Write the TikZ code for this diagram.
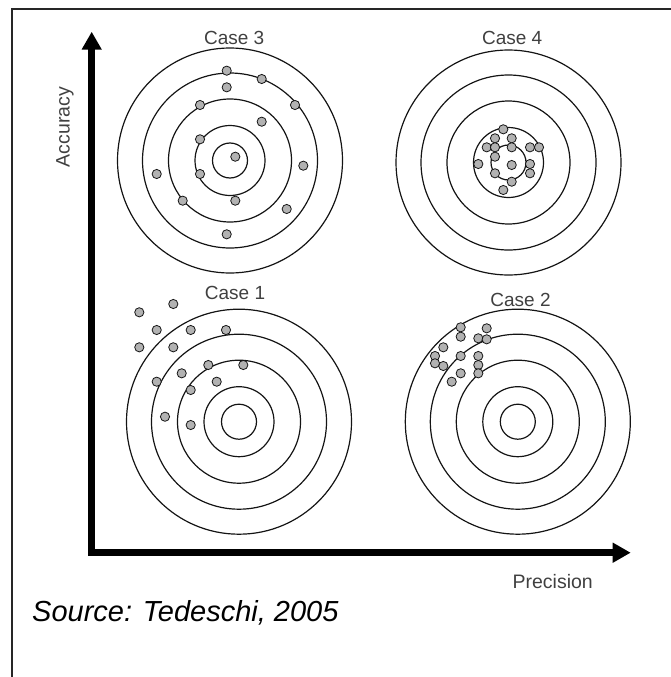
\documentclass[tikz,border=0pt]{standalone}
\usepackage{fontspec}
\setmainfont{Liberation Sans}
\usepackage{xcolor}
\definecolor{ink}{RGB}{20, 20, 20}
\definecolor{shot}{RGB}{178, 178, 178}
\usepackage{tikz}
\usetikzlibrary{arrows.meta,positioning}

\begin{document}
\begin{tikzpicture}[
  x=1pt, y=-1pt,
  ring/.style={draw=ink, line width=1.2pt},
  shotdot/.style={draw=ink, fill=shot, line width=0.8pt},
  caselabel/.style={anchor=base, inner sep=0pt, text=black!75, font=\fontsize{19}{19}\selectfont},
  axislabel/.style={inner sep=0pt, text=black!75, font=\fontsize{19.5}{19.5}\selectfont},
  axis/.style={line width=6.7pt, line join=miter, draw=black,
    {Triangle[length=18pt,width=19pt]}-{Triangle[length=18pt,width=19pt]}}
]
\useasboundingbox (0,0) rectangle (671,677);

% frame
\draw[line width=2pt, draw=black!85] (671,9) -- (11.5,9) -- (11.5,677);

% targets
\coordinate (t3) at (230,160.5);
\coordinate (t4) at (508.5,162.5);
\coordinate (t1) at (239,421.7);
\coordinate (t2) at (517.8,421.7);
\foreach \t in {t1,t2,t3,t4}
  \foreach \r in {17.5,35,61.5,87.5,112.5}
    \draw[ring] (\t) circle (\r pt);

\node[caselabel] (c3) at (234.2,45) {Case 3};
\node[caselabel] (c4) at (512.2,45) {Case 4};
\node[caselabel] (c1) at (235,299.3) {Case 1};
\node[caselabel] (c2) at (520.5,306) {Case 2};

% shots, case 3
\foreach \p in {(226.7,70.7),(261.7,79),(226.7,87.3),(200,105),(295,105),(261.7,121.7),
  (200,139.3),(235.3,156.7),(156.7,174),(303.3,165.7),(200,174),(182.7,200.7),
  (235.3,200.7),(286.7,209),(226.7,234.3)}
  \draw[shotdot] \p circle (4.6pt);

% shots, case 4
\foreach \p in {(503.3,129.3),(495,138.3),(511.7,138.3),(486.7,147.3),(495,147.3),
  (511.7,147.3),(530,147.3),(539,147.3),(495,156.7),(478.3,164),(511.7,165),
  (530,164),(530,173.3),(495,173.3),(511.7,181.7),(503.3,190)}
  \draw[shotdot] \p circle (4.6pt);

% shots, case 1
\foreach \p in {(139.3,312.3),(173.3,304),(156.7,330),(190.7,330),(226,330),
  (139.3,347.3),(173.3,347.3),(208.3,365),(243.3,365),(181.7,373.3),(156.7,381.7),
  (216.7,381.7),(190.7,390),(165,416.7),(190.7,425)}
  \draw[shotdot] \p circle (4.6pt);

% shots, case 2
\foreach \p in {(460.7,327.3),(460.7,336.7),(486.7,328.3),(478.3,338.3),(486.7,339.3),
  (443.3,347.3),(435,356),(460.7,356),(478.3,356),(435,363.3),(443.3,366),
  (478.3,365),(478.3,373.3),(460.7,373.3),(451.7,381.7)}
  \draw[shotdot] \p circle (4.6pt);

% axes
\coordinate (o) at (91.7,552.7);
\coordinate (ytop) at (91.7,31.7);
\coordinate (xend) at (630.7,552.7);
\draw[axis] (ytop) -- (o) -- (xend);

\node[axislabel, rotate=90] (acc) at (65,127) {Accuracy};
\node[axislabel, anchor=base east] (prec) at (593,588) {Precision};

\node[anchor=base west, inner sep=0pt, font=\fontsize{29}{29}\selectfont\itshape] (src) at (32,621.7) {Source: Tedeschi, 2005};
\end{tikzpicture}
\end{document}
